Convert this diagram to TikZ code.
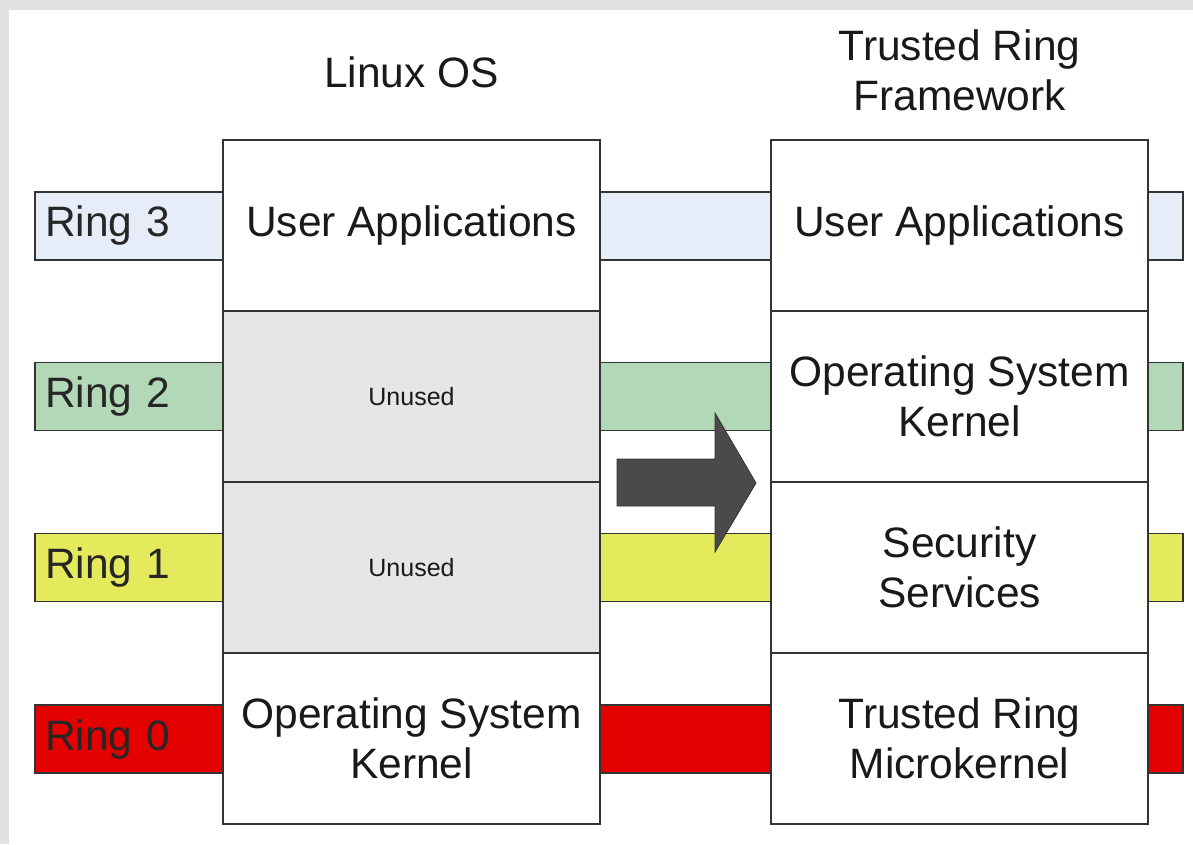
\documentclass[tikz,border=0pt]{standalone}
\usepackage{fontspec}
\setmainfont{Liberation Sans}
\definecolor{linec}{HTML}{333333}
\definecolor{ringthree}{HTML}{E6ECF8}
\definecolor{ringtwo}{HTML}{B2D8B8}
\definecolor{ringone}{HTML}{E4EA5C}
\definecolor{ringzero}{HTML}{E50000}
\definecolor{unusedfill}{HTML}{E6E6E6}
\definecolor{arrowfill}{HTML}{4A4A4A}
\definecolor{framegray}{HTML}{E2E2E2}
\begin{document}
\begin{tikzpicture}[x=1pt,y=-1pt,
  bigfont/.style={font=\fontsize{42.5pt}{50pt}\selectfont},
  ringbar/.style={draw=linec, line width=1.5pt, minimum width=1148pt, minimum height=68pt,
    text width=1128pt, inner xsep=10pt, inner ysep=0pt, align=left, bigfont, text=black!85},
  cell/.style={draw=linec, line width=1.5pt, fill=white, minimum width=377pt, minimum height=171pt,
    inner sep=0pt, align=center, bigfont, text=black!90},
  unusedcell/.style={cell, fill=unusedfill, font=\fontsize{25pt}{30pt}\selectfont},
  title/.style={align=center, bigfont, text=black!90},
  lowtext/.style={text depth=3pt}
]
\useasboundingbox (0,0) rectangle (1193,844);
% frame
\fill[framegray] (0,0) rectangle (1193,844);
\fill[white] (9,10) rectangle (1193,844);

% ring bars
\node[ringbar, fill=ringthree] (r3) at (609,226) {\raisebox{-3pt}{Ring 3}};
\node[ringbar, fill=ringtwo]   (r2) at (609,396.5) {\raisebox{-3pt}{Ring 2}};
\node[ringbar, fill=ringone]   (r1) at (609,567.5) {\raisebox{-3pt}{Ring 1}};
\node[ringbar, fill=ringzero]  (r0) at (609,739) {\raisebox{-3pt}{Ring 0}};

% titles
\node[title] (tl) at (411.5,72) {Linux OS};
\node[title] (tr) at (959.5,70) {Trusted Ring\\Framework};

% left column
\node[cell] (l3) at (411.5,225.5) {\raisebox{-3pt}{User Applications}};
\node[unusedcell] (l2) at (411.5,396.5) {Unused};
\node[unusedcell] (l1) at (411.5,567.5) {Unused};
\node[cell] (l0) at (411.5,738.5) {Operating System\\Kernel};

% right column
\node[cell] (c3) at (959.5,225.5) {\raisebox{-3pt}{User Applications}};
\node[cell] (c2) at (959.5,396.5) {Operating System\\Kernel};
\node[cell] (c1) at (959.5,567.5) {Security\\Services};
\node[cell] (c0) at (959.5,738.5) {Trusted Ring\\Microkernel};

% block arrow
\filldraw[fill=arrowfill, draw=black!80, line width=0.8pt]
  (617,459) -- (715,459) -- (715,413) -- (756,483) -- (715,552) -- (715,506) -- (617,506) -- cycle;
\end{tikzpicture}
\end{document}
